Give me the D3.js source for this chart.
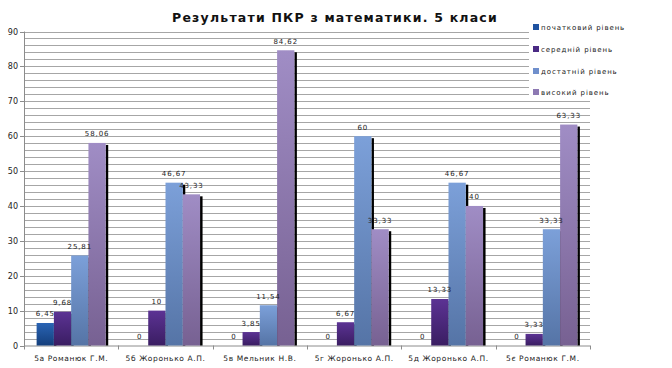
<!DOCTYPE html>
<html><head><meta charset="utf-8">
<script src="https://cdn.jsdelivr.net/npm/d3@7"></script>
<style>body{margin:0;background:#fff}svg{display:block}text{font-family:"DejaVu Sans",Verdana,sans-serif}</style>
</head><body><svg id="c" width="672" height="368"></svg>
<script>
const categories = ["5а Романюк Г.М.","5б Жоронько А.П.","5в Мельник Н.В.","5г Жоронько А.П.","5д Жоронько А.П.","5є Романюк Г.М."];
const seriesNames = ["початковий рівень","середній рівень","достатній рівень","високий рівень"];
const pochatkovyi = [6.45,0,0,0,0,0];
const serednii = [9.68,10,3.85,6.67,13.33,3.33];
const dostatnii = [25.81,46.67,11.54,60,46.67,33.33];
const vysokyi = [58.06,43.33,84.62,33.33,40,63.33];
const valueLabels = [
  ["6,45","0","0","0","0","0"],
  ["9,68","10","3,85","6,67","13,33","3,33"],
  ["25,81","46,67","11,54","60","46,67","33,33"],
  ["58,06","43,33","84,62","33,33","40","63,33"]
];
const yTicks = [0,10,20,30,40,50,60,70,80,90];
const title = "Результати ПКР з математики. 5 класи";

const series = [pochatkovyi, serednii, dostatnii, vysokyi];
const colors = [
  {top:"#2a64b4", bot:"#143f7c", leg:"#1f52a0"},
  {top:"#5c3394", bot:"#3a1d62", leg:"#4a2a84"},
  {top:"#7ca0d9", bot:"#5574a6", leg:"#6f8fcc"},
  {top:"#a08dc5", bot:"#776192", leg:"#8d79b3"}
];

const svg = d3.select("#c");
const L = 24, R = 590, T = 31.5, B = 345.5;
const y = d3.scaleLinear().domain([0,90]).range([B,T]);
const x0 = d3.scaleBand().domain(categories).range([L,R]).padding(0);
const x1 = d3.scaleBand().domain(d3.range(4)).range([0,x0.bandwidth()]).paddingInner(0).paddingOuter(0.73);

const defs = svg.append("defs");
colors.forEach((c,i)=>{
  const g = defs.append("linearGradient").attr("id","g"+i).attr("x1",0).attr("y1",0).attr("x2",0).attr("y2",1);
  g.append("stop").attr("offset","0%").attr("stop-color",c.top);
  g.append("stop").attr("offset","100%").attr("stop-color",c.bot);
});

// gridlines every 2
svg.append("g").selectAll("line").data(d3.range(2,91,2)).join("line")
  .attr("x1",L).attr("x2",R).attr("y1",d=>Math.round(y(d))+0.5).attr("y2",d=>Math.round(y(d))+0.5)
  .attr("stroke","#a6a6a6").attr("stroke-width",1);

// legend background covering gridlines
svg.append("rect").attr("x",529).attr("y",18).attr("width",143).attr("height",82).attr("fill","#fff");

// axes
svg.append("line").attr("x1",L+0.5).attr("x2",L+0.5).attr("y1",T).attr("y2",B+0.5).attr("stroke","#8c8c8c");
svg.append("line").attr("x1",L).attr("x2",R).attr("y1",B+0.5).attr("y2",B+0.5).attr("stroke","#8c8c8c");
svg.append("g").selectAll("line").data(yTicks).join("line")
  .attr("x1",L-4).attr("x2",L).attr("y1",d=>Math.round(y(d))+0.5).attr("y2",d=>Math.round(y(d))+0.5).attr("stroke","#8c8c8c");
svg.append("g").selectAll("text").data(yTicks).join("text")
  .attr("x",L-6).attr("y",d=>y(d)+3).attr("text-anchor","end").attr("font-size",8).attr("fill","#222").text(d=>d);
const bounds = categories.map(c=>x0(c)).concat([R]);
svg.append("g").selectAll("line").data(bounds).join("line")
  .attr("x1",d=>Math.round(d)+0.5).attr("x2",d=>Math.round(d)+0.5).attr("y1",B).attr("y2",B+4).attr("stroke","#8c8c8c");
svg.append("g").selectAll("text").data(categories).join("text")
  .attr("x",d=>x0(d)+x0.bandwidth()/2).attr("y",361).attr("text-anchor","middle")
  .attr("font-size",7.5).attr("letter-spacing",0.6).attr("fill","#222").text(d=>d);

// bars
const bw = x1.bandwidth();
categories.forEach((cat,ci)=>{
  const g = svg.append("g");
  series.forEach((s,si)=>{
    const v = s[ci];
    const bx = x0(cat)+x1(si);
    if (v>0){
      g.append("rect").attr("x",bx+bw).attr("y",y(v)+2).attr("width",2.5).attr("height",B-y(v)-2).attr("fill","#000");
      g.append("rect").attr("x",bx).attr("y",y(v)).attr("width",bw).attr("height",B-y(v)).attr("fill","url(#g"+si+")");
    }
  });
});
// value labels
categories.forEach((cat,ci)=>{
  series.forEach((s,si)=>{
    const v = s[ci];
    svg.append("text").attr("x",x0(cat)+x1(si)+bw/2).attr("y",y(v)-6.5).attr("text-anchor","middle")
      .attr("font-size",7).attr("letter-spacing",0.9).attr("fill","#222").text(valueLabels[si][ci]);
  });
});

// title
svg.append("text").attr("x",335).attr("y",22).attr("text-anchor","middle").attr("font-size",12.5)
  .attr("font-weight","bold").attr("letter-spacing",1.2).attr("fill","#111").text(title);

// legend
const ly = [27,49,71,92];
seriesNames.forEach((n,i)=>{
  svg.append("rect").attr("x",533).attr("y",ly[i]-3).attr("width",6).attr("height",6).attr("fill",colors[i].leg);
  svg.append("text").attr("x",541).attr("y",ly[i]+2.5).attr("font-size",7).attr("letter-spacing",0.9).attr("fill","#222").text(n);
});
</script></body></html>
